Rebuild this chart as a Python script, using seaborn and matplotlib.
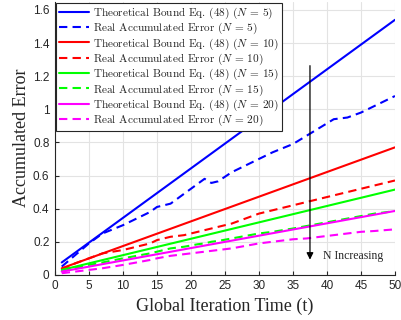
import numpy as np
import pandas as pd
import seaborn as sns
from matplotlib import pyplot as plt

# iteration times
t = [1, 50]
# theoretical bound eq. (48), straight lines (start, end)
bound_n5 = [0.075, 1.54]
bound_n10 = [0.04, 0.77]
bound_n15 = [0.03, 0.515]
bound_n20 = [0.02, 0.386]

# real accumulated error
t_real = [1, 3, 5, 7, 10, 12, 14, 15, 17, 19, 21, 22, 23, 24, 26, 28, 30,
          32, 35, 37, 39, 41, 43, 45, 47, 50]
real_n5 = [0.05, 0.12, 0.19, 0.25, 0.30, 0.34, 0.38, 0.41, 0.43, 0.49, 0.55,
           0.58, 0.555, 0.565, 0.62, 0.66, 0.70, 0.74, 0.79, 0.84, 0.89,
           0.94, 0.95, 0.98, 1.02, 1.08]
real_n10 = [0.03, 0.07, 0.10, 0.13, 0.15, 0.17, 0.19, 0.21, 0.23, 0.24, 0.26,
            0.27, 0.28, 0.29, 0.31, 0.34, 0.37, 0.39, 0.42, 0.44, 0.46, 0.48,
            0.50, 0.52, 0.54, 0.57]
real_n15 = [0.02, 0.04, 0.06, 0.075, 0.10, 0.115, 0.13, 0.14, 0.16, 0.17,
            0.185, 0.19, 0.20, 0.205, 0.22, 0.235, 0.25, 0.26, 0.28, 0.295,
            0.31, 0.325, 0.34, 0.355, 0.37, 0.385]
real_n20 = [0.01, 0.02, 0.03, 0.04, 0.06, 0.075, 0.09, 0.10, 0.115, 0.125,
            0.135, 0.14, 0.145, 0.15, 0.16, 0.175, 0.19, 0.20, 0.215, 0.22,
            0.23, 0.24, 0.25, 0.26, 0.265, 0.275]

n_values = [5, 10, 15, 20]
colors = ['#0000ff', '#ff0000', '#00ff00', '#ff00ff']
bounds = [bound_n5, bound_n10, bound_n15, bound_n20]
reals = [real_n5, real_n10, real_n15, real_n20]

sns.set_style('whitegrid')
plt.rcParams['mathtext.fontset'] = 'cm'
plt.rcParams['axes.unicode_minus'] = False

fig, ax = plt.subplots(figsize=(4.01, 3.2), dpi=100)
fig.subplots_adjust(left=0.137, right=0.985, bottom=0.141, top=0.995)

for n, c, b, r in zip(n_values, colors, bounds, reals):
    sns.lineplot(x=t, y=b, ax=ax, color=c, linewidth=1.5,
                 label=rf'Theoretical Bound Eq. (48) ($N$ = {n})')
    df = pd.DataFrame({'t': t_real, 'err': r})
    sns.lineplot(data=df, x='t', y='err', ax=ax, color=c, linewidth=1.5,
                 label=rf'Real Accumulated Error ($N$ = {n})')
    ax.lines[-1].set_dashes((4, 2.5))

ax.set_xlim(0, 50)
ax.set_ylim(0, 1.65)
ax.set_xticks(np.arange(0, 51, 5))
ax.set_yticks([0, 0.2, 0.4, 0.6, 0.8, 1, 1.2, 1.4, 1.6])
ax.set_yticklabels(['0', '0.2', '0.4', '0.6', '0.8', '1', '1.2', '1.4', '1.6'])
ax.grid(True, color='#e3e3e3', linewidth=0.8)
ax.tick_params(direction='in', length=3, width=0.8, labelsize=8.5,
               colors='#262626', pad=4, bottom=True, left=True)
for lab in ax.get_xticklabels() + ax.get_yticklabels():
    lab.set_family('Liberation Sans')
for s in ['top', 'right']:
    ax.spines[s].set_visible(False)
for s in ['left', 'bottom']:
    ax.spines[s].set_color('#262626')
    ax.spines[s].set_linewidth(0.8)

ax.set_xlabel('Global Iteration Time (t)', family='Liberation Serif',
              fontsize=13, color='#262626', labelpad=4)
ax.set_ylabel('Accumulated Error', family='Liberation Serif',
              fontsize=13, color='#262626', labelpad=2)

ax.annotate('', xy=(37.5, 0.075), xytext=(37.5, 1.28),
            arrowprops=dict(arrowstyle='-|>', color='black', lw=0.9,
                            mutation_scale=10))
ax.text(39.4, 0.115, 'N Increasing', family='Liberation Serif', fontsize=8.5,
        va='center', ha='left')

leg = ax.legend(loc='upper left', prop={'family': 'cmr10', 'size': 8.1},
                handlelength=2.7, handletextpad=0.35, borderpad=0.25,
                labelspacing=0.0, fancybox=False, framealpha=1,
                borderaxespad=0.1)
leg.get_frame().set_edgecolor('#262626')
leg.get_frame().set_linewidth(0.8)
for h in leg.get_lines()[1::2]:
    h.set_dashes((4, 2.5))

fig.savefig('out.png', dpi=100)
